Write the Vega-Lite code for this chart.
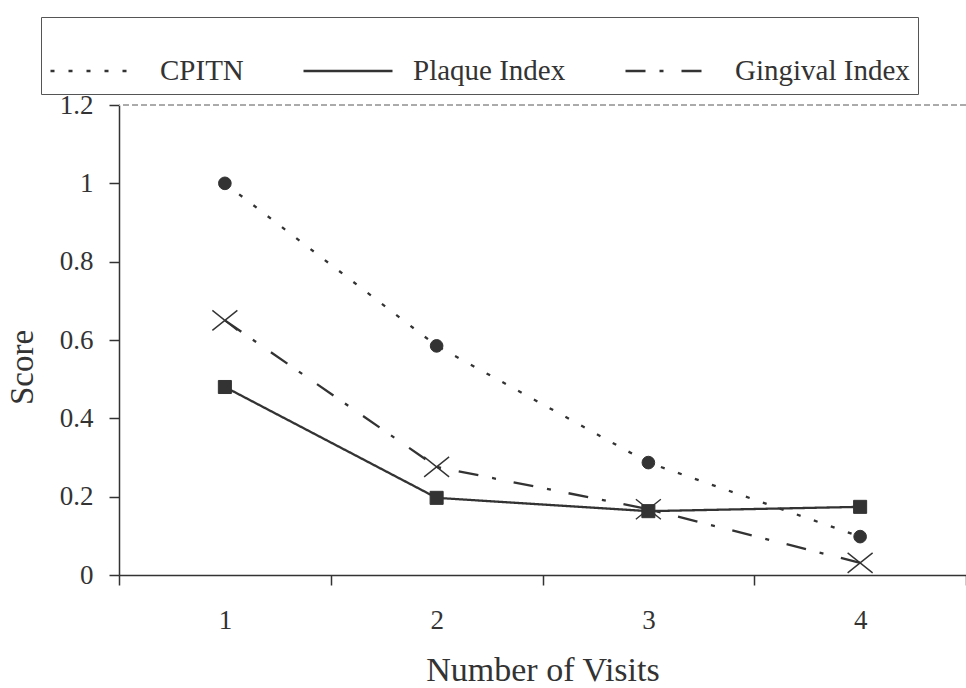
{
  "$schema": "https://vega.github.io/schema/vega-lite/v6.json",
  "autosize": {"type": "none"},
  "width": 847,
  "height": 470,
  "padding": {"left": 119, "top": 105, "right": 0, "bottom": 113},
  "background": "white",
  "config": {"view": {"stroke": null}, "font": "Liberation Serif"},
  "data": {
    "values": [
      {"visit": "1", "series": "CPITN", "score": 1.0},
      {"visit": "2", "series": "CPITN", "score": 0.585},
      {"visit": "3", "series": "CPITN", "score": 0.287},
      {"visit": "4", "series": "CPITN", "score": 0.098},
      {"visit": "1", "series": "Plaque Index", "score": 0.48},
      {"visit": "2", "series": "Plaque Index", "score": 0.197},
      {"visit": "3", "series": "Plaque Index", "score": 0.163},
      {"visit": "4", "series": "Plaque Index", "score": 0.174},
      {"visit": "1", "series": "Gingival Index", "score": 0.65},
      {"visit": "2", "series": "Gingival Index", "score": 0.276},
      {"visit": "3", "series": "Gingival Index", "score": 0.168},
      {"visit": "4", "series": "Gingival Index", "score": 0.031}
    ]
  },
  "layer": [
    {
      "mark": {"type": "rule", "color": "#aaa", "strokeDash": [6, 3], "strokeWidth": 1},
      "encoding": {"y": {"datum": 1.2, "type": "quantitative", "scale": {"domain": [0, 1.2], "nice": false}}}
    },
    {
      "mark": {"type": "line", "color": "#333", "strokeWidth": 2.3},
      "encoding": {
        "x": {
          "field": "visit", "type": "ordinal",
          "scale": {"type": "band", "paddingInner": 0, "paddingOuter": 0},
          "axis": {
            "title": "Number of Visits", "labelAngle": 0, "tickBand": "extent",
            "domainColor": "#333", "domainWidth": 1.5, "tickColor": "#333", "tickWidth": 1.5, "tickSize": 10,
            "labelFont": "Liberation Serif", "labelFontSize": 27, "labelColor": "#333", "labelPadding": 22,
            "titleFont": "Liberation Serif", "titleFontSize": 34, "titleFontWeight": "normal", "titleColor": "#333", "titlePadding": 20
          }
        },
        "y": {
          "field": "score", "type": "quantitative",
          "scale": {"domain": [0, 1.2], "nice": false},
          "axis": {
            "title": "Score", "values": [0, 0.2, 0.4, 0.6, 0.8, 1, 1.2], "format": "~g", "grid": false,
            "domainColor": "#333", "domainWidth": 1.5, "tickColor": "#333", "tickWidth": 1.5, "tickSize": 10,
            "labelFont": "Liberation Serif", "labelFontSize": 27, "labelColor": "#333", "labelPadding": 16,
            "titleFont": "Liberation Serif", "titleFontSize": 33, "titleFontWeight": "normal", "titleColor": "#333", "titlePadding": 20, "titleY": 262
          }
        },
        "strokeDash": {
          "field": "series", "type": "nominal",
          "scale": {"domain": ["CPITN", "Plaque Index", "Gingival Index"], "range": [[4, 14], [1, 0], [20, 14, 4, 18]]},
          "legend": {
            "title": null, "orient": "none", "legendX": -78, "legendY": -88, "direction": "horizontal",
            "padding": 8, "strokeColor": "#555", "fillColor": "white",
            "symbolSize": 7921, "symbolStrokeWidth": 2.3,
            "labelFont": "Liberation Serif", "labelFontSize": 29, "labelColor": "#333", "labelOffset": 19, "labelLimit": 400,
            "columnPadding": 54
          }
        }
      }
    },
    {
      "transform": [{"filter": "datum.series == 'CPITN'"}],
      "mark": {"type": "point", "shape": "circle", "size": 160, "filled": true, "fill": "#333", "stroke": "#333", "strokeWidth": 1, "opacity": 1},
      "encoding": {"x": {"field": "visit", "type": "ordinal"}, "y": {"field": "score", "type": "quantitative"}}
    },
    {
      "transform": [{"filter": "datum.series == 'Plaque Index'"}],
      "mark": {"type": "point", "shape": "square", "size": 170, "filled": true, "fill": "#333", "stroke": "#333", "strokeWidth": 1, "opacity": 1},
      "encoding": {"x": {"field": "visit", "type": "ordinal"}, "y": {"field": "score", "type": "quantitative"}}
    },
    {
      "transform": [{"filter": "datum.series == 'Gingival Index'"}],
      "mark": {"type": "point", "shape": "M-1,-0.8L1,0.8M-1,0.8L1,-0.8", "size": 625, "filled": false, "stroke": "#333", "strokeWidth": 1.4, "opacity": 1},
      "encoding": {"x": {"field": "visit", "type": "ordinal"}, "y": {"field": "score", "type": "quantitative"}}
    }
  ]
}
